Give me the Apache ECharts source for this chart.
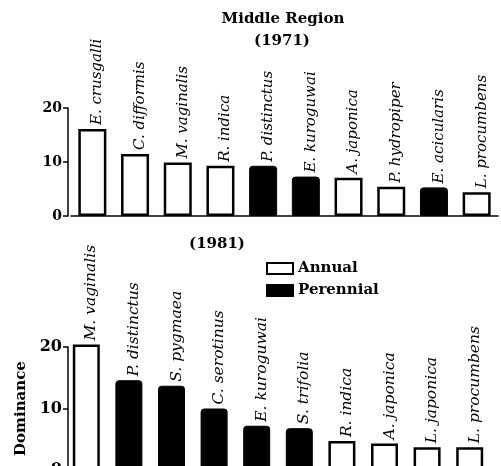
<!DOCTYPE html>
<html><head><meta charset="utf-8">
<script src="https://cdn.jsdelivr.net/npm/echarts@6/dist/echarts.min.js"></script>
<style>html,body{margin:0;padding:0;background:#fff}#c{width:501px;height:466px}</style>
</head><body><div id="c"></div>
<script>
const species1971 = ["E. crusgalli","C. difformis","M. vaginalis","R. indica","P. distinctus","E. kuroguwai","A. japonica","P. hydropiper","E. acicularis","L. procumbens"];
const values1971 = [16.1, 11.5, 9.9, 9.3, 9.3, 7.3, 7.1, 5.4, 5.3, 4.4];
const types1971 = ["A","A","A","A","P","P","A","A","P","A"];
const species1981 = ["M. vaginalis","P. distinctus","S. pygmaea","C. serotinus","E. kuroguwai","S. trifolia","R. indica","A. japonica","L. japonica","L. procumbens"];
const values1981 = [20.4, 14.6, 13.7, 10.0, 7.2, 6.8, 4.7, 4.3, 3.7, 3.7];
const types1981 = ["A","P","P","P","P","P","A","A","A","A"];
const yTicks = [0, 10, 20];

const serif = "DejaVu Serif";
const chart = echarts.init(document.getElementById('c'), null, {renderer:'canvas'});

function pick(vals, types, t){ return vals.map((v,i)=> types[i]===t ? v : '-'); }
function labelCfg(cats, fs){
  return {show:true, position:'top', rotate:90, align:'left', verticalAlign:'middle', distance:4, offset:[0,5],
    fontFamily:serif, fontStyle:'italic', fontSize:fs, color:'#000',
    formatter: p => cats[p.dataIndex]};
}
const annualStyle = {color:'#fff', borderColor:'#000', borderWidth:2.5};
const perStyle = {color:'#000', borderColor:'#000', borderWidth:1, borderRadius:[3,3,0,0]};

const yCommon = {type:'value', min:yTicks[0], max:yTicks[yTicks.length-1], interval:yTicks[1]-yTicks[0], offset:3,
  axisLine:{show:true, lineStyle:{color:'#000', width:1.5}},
  axisTick:{show:true, length:5, lineStyle:{color:'#000', width:1.5}},
  splitLine:{show:false},
  axisLabel:{fontFamily:serif, fontWeight:'bold', fontSize:14, color:'#000', margin:6}};

chart.setOption({
  animation:false,
  backgroundColor:'#fff',
  title:[
    {text:'Middle Region', left:278, top:7, textAlign:'center', textStyle:{fontFamily:serif, fontWeight:'bold', fontSize:15, color:'#000'}},
    {text:'(1971)', left:277, top:29, textAlign:'center', textStyle:{fontFamily:serif, fontWeight:'bold', fontSize:15, color:'#000'}},
    {text:'(1981)', left:212, top:232, textAlign:'center', textStyle:{fontFamily:serif, fontWeight:'bold', fontSize:15, color:'#000'}}
  ],
  legend:{data:['Annual','Perennial'], orient:'vertical', left:261, top:256, itemGap:7, itemWidth:26, itemHeight:11,
    icon:'rect', textStyle:{fontFamily:serif, fontWeight:'bold', fontSize:15, color:'#000'}, selectedMode:false},
  grid:[
    {left:71, top:108, width:427, height:108, outerBoundsMode:'none', containLabel:false},
    {left:65, top:347, width:426, height:123, outerBoundsMode:'none', containLabel:false}
  ],
  xAxis:[
    {type:'category', gridIndex:0, data:species1971, axisLabel:{show:false}, axisTick:{show:false},
      axisLine:{lineStyle:{color:'#000', width:1.5}}},
    {type:'category', gridIndex:1, data:species1981, axisLabel:{show:false}, axisTick:{show:false},
      axisLine:{lineStyle:{color:'#000', width:1.5}}}
  ],
  yAxis:[
    Object.assign({}, yCommon, {gridIndex:0}),
    Object.assign({}, yCommon, {gridIndex:1, offset:-3, name:'Dominance', nameLocation:'middle', nameRotate:90, nameGap:22,
      nameTextStyle:{fontFamily:serif, fontWeight:'bold', fontSize:15, color:'#000'},
      axisLabel:Object.assign({}, yCommon.axisLabel, {fontSize:16})})
  ],
  series:[
    {name:'Annual', type:'bar', xAxisIndex:0, yAxisIndex:0, stack:'a', barWidth:28, data:pick(values1971,types1971,'A'), itemStyle:annualStyle, label:labelCfg(species1971,15), clip:false},
    {name:'Perennial', type:'bar', xAxisIndex:0, yAxisIndex:0, stack:'a', barWidth:28, data:pick(values1971,types1971,'P'), itemStyle:perStyle, label:labelCfg(species1971,15), clip:false},
    {name:'Annual', type:'bar', xAxisIndex:1, yAxisIndex:1, stack:'b', barWidth:27, data:pick(values1981,types1981,'A'), itemStyle:annualStyle, label:labelCfg(species1981,15.5), clip:false},
    {name:'Perennial', type:'bar', xAxisIndex:1, yAxisIndex:1, stack:'b', barWidth:27, data:pick(values1981,types1981,'P'), itemStyle:perStyle, label:labelCfg(species1981,15.5), clip:false}
  ]
});
</script></body></html>
